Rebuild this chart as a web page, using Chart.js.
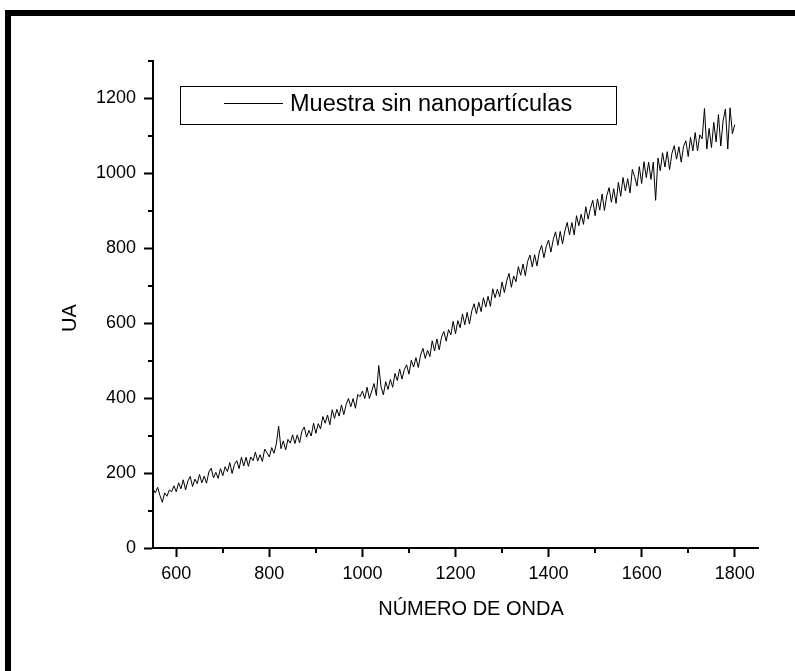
<!DOCTYPE html>
<html>
<head>
<meta charset="utf-8">
<script src="https://cdn.jsdelivr.net/npm/chart.js@4/dist/chart.umd.min.js"></script>
<style>
  html, body { margin: 0; padding: 0; background: #fff; }
  #wrap { position: relative; width: 795px; height: 671px; overflow: hidden; }
  #frame {
    position: absolute; left: 5px; top: 10px; width: 790px; height: 661px;
    border-top: 6px solid #000; border-left: 6px solid #000; box-sizing: border-box;
  }
  canvas { position: absolute; left: 0; top: 0; }
</style>
</head>
<body>
<div id="wrap">
  <canvas id="chart" width="795" height="671"></canvas>
  <div id="frame"></div>
</div>
<script>
/* =================================================================
    Data
================================================================= */

var seriesLabel = "Muestra sin nanopartículas";
var xTitle = "NÚMERO DE ONDA";
var yTitle = "UA";

// wavenumber sampling: 550 .. 1800, every 5
var waveStart = 550;
var waveStep = 5;

var intensity = [
    158, 147, 162, 140, 122, 147, 138, 155, 150, 166,
    150, 174, 158, 182, 155, 179, 191, 164, 184, 172,
    196, 174, 192, 173, 203, 213, 187, 202, 186, 212,
    193, 217, 204, 228, 199, 223, 233, 212, 242, 219,
    242, 218, 243, 233, 256, 232, 249, 231, 264, 254,
    243, 268, 253, 278, 325, 265, 286, 262, 290, 280,
    302, 279, 302, 281, 312, 323, 296, 314, 299, 333,
    306, 332, 318, 351, 333, 355, 329, 369, 346, 370,
    352, 382, 356, 383, 399, 377, 399, 373, 410, 404,
    419, 399, 429, 399, 419, 439, 407, 487, 431, 409,
    444, 423, 450, 429, 466, 447, 478, 451, 476, 489,
    464, 501, 483, 508, 482, 515, 533, 506, 528, 511,
    553, 526, 558, 529, 563, 578, 552, 583, 569, 605,
    572, 607, 588, 625, 596, 629, 598, 633, 652, 625,
    656, 631, 668, 643, 672, 645, 692, 668, 691, 671,
    710, 682, 713, 733, 696, 726, 711, 751, 728, 758,
    727, 765, 782, 750, 783, 753, 790, 808, 775, 805,
    822, 790, 823, 844, 808, 845, 812, 846, 869, 836,
    869, 836, 887, 860, 891, 864, 911, 878, 907, 928,
    887, 932, 902, 945, 901, 940, 962, 923, 959, 920,
    976, 939, 989, 953, 986, 948, 1011, 991, 966, 1018,
    973, 1031, 989, 1030, 984, 1030, 928, 1041, 1007, 1055,
    1017, 1058, 1010, 1053, 1074, 1038, 1071, 1030, 1072, 1087,
    1045, 1096, 1060, 1109, 1060, 1103, 1092, 1173, 1065, 1120,
    1069, 1136, 1084, 1157, 1073, 1140, 1172, 1065, 1175, 1106,
    1130
];

var xTicks = [600, 800, 1000, 1200, 1400, 1600, 1800];
var xMinorTicks = [700, 900, 1100, 1300, 1500, 1700];
var yTicks = [0, 200, 400, 600, 800, 1000, 1200];
var yMinorTicks = [100, 300, 500, 700, 900, 1100, 1300];

/* =================================================================
    Chart
================================================================= */

var FONT = "'Liberation Sans', Arial, Helvetica, sans-serif";

var points = intensity.map(function (v, i) {
    return { x: waveStart + i * waveStep, y: v };
});

// minor ticks, axis titles and the boxed legend
var extras = {
    id: 'extras',
    afterDraw: function (chart) {
        var c = chart.ctx;
        var xs = chart.scales.x;
        var ys = chart.scales.y;
        var area = chart.chartArea;
        c.save();
        c.strokeStyle = '#000';
        c.lineWidth = 2;
        c.beginPath();
        xMinorTicks.forEach(function (v) {
            var px = Math.round(xs.getPixelForValue(v));
            c.moveTo(px, area.bottom);
            c.lineTo(px, area.bottom + 5);
        });
        yMinorTicks.forEach(function (v) {
            var py = Math.round(ys.getPixelForValue(v));
            c.moveTo(area.left, py);
            c.lineTo(area.left - 5, py);
        });
        c.stroke();

        c.fillStyle = '#000';
        c.font = '20px ' + FONT;
        c.textAlign = 'center';
        c.textBaseline = 'middle';
        c.fillText(xTitle, 471, 609);
        c.save();
        c.translate(70, 318);
        c.rotate(-Math.PI / 2);
        c.fillText(yTitle, 0, 0);
        c.restore();

        // legend
        c.lineWidth = 1;
        c.strokeRect(180.5, 86.5, 436, 38);
        c.beginPath();
        c.moveTo(224, 103.5);
        c.lineTo(283, 103.5);
        c.stroke();
        c.font = '23.5px ' + FONT;
        c.textAlign = 'left';
        c.fillText(chart.data.datasets[0].label, 290, 105);
        c.restore();
    }
};

var ctx = document.getElementById("chart");

var myChart = new Chart(ctx, {
    type: 'line',
    data: {
        datasets: [{
            label: seriesLabel,
            data: points,
            borderColor: '#000',
            borderWidth: 1,
            pointRadius: 0,
            fill: false,
            tension: 0
        }]
    },
    options: {
        responsive: false,
        animation: false,
        layout: { padding: { left: 0, top: 61, right: 37, bottom: 0 } },
        plugins: {
            legend: { display: false },
            tooltip: { enabled: false }
        },
        scales: {
            x: {
                type: 'linear',
                min: 550,
                max: 1850,
                afterBuildTicks: function (s) { s.ticks = xTicks.map(function (v) { return { value: v }; }); },
                afterFit: function (s) { s.height = 123; },
                border: { display: true, color: '#000', width: 2 },
                grid: { drawOnChartArea: false, drawTicks: true, tickLength: 9, tickWidth: 2, tickColor: '#000' },
                ticks: {
                    color: '#000', padding: 6, maxRotation: 0,
                    font: { family: FONT, size: 18 },
                    callback: function (v) { return String(v); }
                }
            },
            y: {
                type: 'linear',
                min: 0,
                max: 1300,
                afterBuildTicks: function (s) { s.ticks = yTicks.map(function (v) { return { value: v }; }); },
                afterFit: function (s) { s.width = 153; },
                border: { display: true, color: '#000', width: 2 },
                grid: { drawOnChartArea: false, drawTicks: true, tickLength: 9, tickWidth: 2, tickColor: '#000' },
                ticks: {
                    color: '#000', padding: 8,
                    font: { family: FONT, size: 18 },
                    callback: function (v) { return String(v); }
                }
            }
        }
    },
    plugins: [extras]
});
</script>
</body>
</html>
